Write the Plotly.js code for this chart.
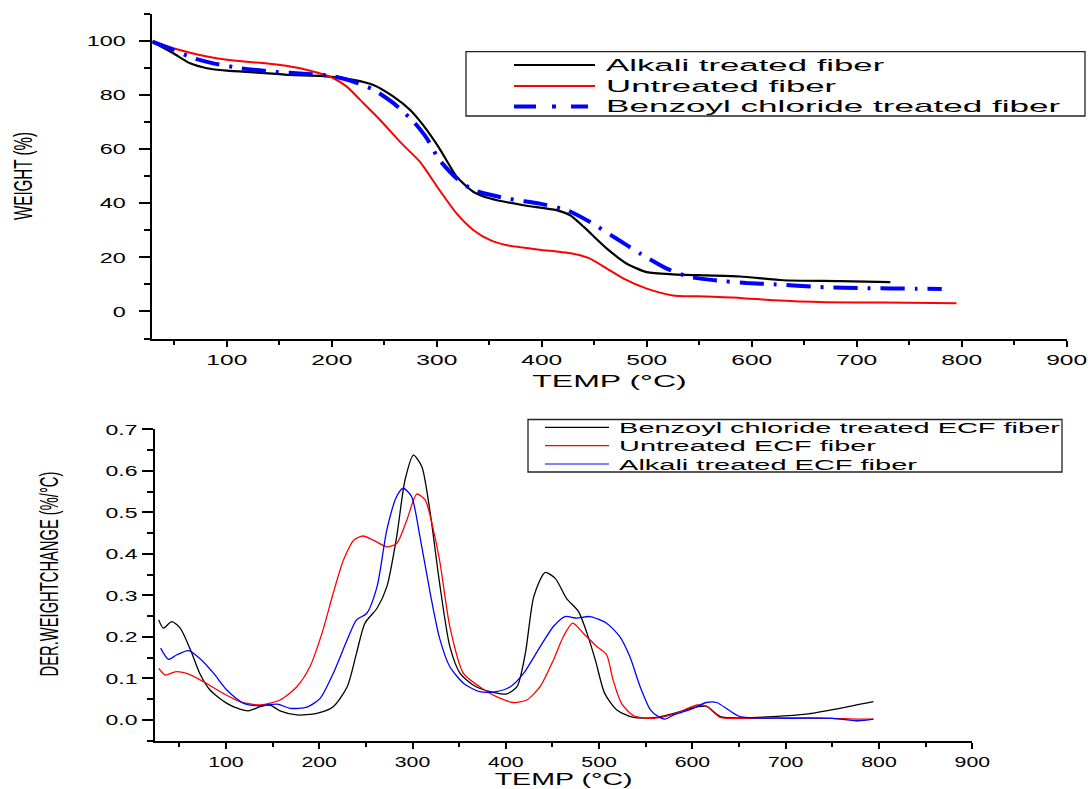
<!DOCTYPE html>
<html>
<head>
<meta charset="utf-8">
<script src="https://cdn.plot.ly/plotly-3.0.1.min.js"></script>
<style>
  html, body { margin: 0; padding: 0; background: #fff; }
  #chart { width: 1091px; height: 789px; }
</style>
</head>
<body>
<div id="chart"></div>
<script>
// ---------------- TGA (top panel) ----------------
const tgaAlkaliTemp   = [29, 49, 65, 81, 100, 128.6, 160, 192, 220.6, 239.6, 258.7, 274.6, 287, 302, 319, 335, 351, 382.5, 414, 427, 440, 462, 481, 500, 525, 557, 589, 630, 684, 732];
const tgaAlkaliWeight = [99.6, 95.3, 91.6, 89.8, 88.9, 88.2, 87.3, 86.9, 85.5, 83.6, 79.3, 74.4, 68.8, 60.5, 49.7, 44.1, 41.7, 39.2, 37.4, 35.5, 31.2, 23.2, 17.6, 14.5, 13.7, 13.3, 12.9, 11.5, 11.2, 10.8];

const tgaUntreatedTemp   = [29, 49, 81, 100, 128.6, 150.8, 169.8, 185.7, 201.5, 214.3, 227, 246, 265, 284, 302, 319, 335, 351, 367, 398, 430, 446, 462, 478, 500, 525, 557, 589, 621, 671, 725, 773, 795];
const tgaUntreatedWeight = [99.6, 97.2, 94.1, 92.9, 91.9, 91.0, 89.8, 88.2, 86.1, 83.0, 78.1, 70.7, 62.6, 55.2, 45.1, 36.1, 30.0, 26.3, 24.4, 22.8, 21.3, 19.5, 15.8, 12.1, 8.4, 5.9, 5.5, 5.0, 4.1, 3.4, 3.3, 3.1, 3.0];

const tgaBenzoylTemp   = [29, 49, 68, 87, 113, 144, 176, 200, 221, 240, 259, 278, 290.5, 302, 319, 335, 367, 398, 424, 446, 471, 494, 519, 541, 573, 595, 621, 665, 710, 757, 781];
const tgaBenzoylWeight = [99.6, 96.6, 93.5, 91.6, 89.8, 88.5, 87.7, 86.9, 84.8, 81.8, 76.8, 70.0, 63.9, 56.2, 49.1, 44.8, 41.7, 39.8, 37.4, 33.0, 26.9, 21.3, 15.8, 12.7, 11.2, 10.5, 10.0, 9.0, 8.6, 8.4, 8.3];

const tgaNames = ["Alkali treated fiber", "Untreated fiber", "Benzoyl chloride treated fiber"];

// ---------------- DTG (bottom panel) ----------------
const dtgBenzoylTemp = [28, 33, 42, 51, 62, 72, 83, 101, 115, 124, 137, 147, 158, 176, 197.5, 215, 230, 240, 249, 262, 272.5, 283, 292, 301, 310, 319, 329, 340, 351, 365, 383, 401, 412, 421, 430, 442, 453, 465, 478, 487, 496, 506, 519, 537, 562, 580, 606, 615, 630, 651, 687, 722, 758, 794];
const dtgBenzoylRate = [0.241, 0.221, 0.237, 0.221, 0.169, 0.112, 0.072, 0.040, 0.026, 0.022, 0.032, 0.036, 0.022, 0.012, 0.016, 0.032, 0.080, 0.161, 0.233, 0.269, 0.321, 0.441, 0.578, 0.638, 0.610, 0.498, 0.330, 0.177, 0.112, 0.084, 0.068, 0.063, 0.080, 0.161, 0.297, 0.355, 0.341, 0.293, 0.261, 0.209, 0.144, 0.064, 0.024, 0.006, 0.006, 0.016, 0.032, 0.033, 0.008, 0.005, 0.008, 0.014, 0.028, 0.044];

const dtgUntreatedTemp = [28, 35, 45.6, 58, 76, 97, 115, 137, 158, 176, 190, 203, 215, 226, 237, 247, 258, 272.5, 283, 294, 304.6, 313.5, 322.4, 329.6, 340, 354.6, 372, 390, 408, 422.5, 436.7, 451, 461.7, 471.8, 483, 497.5, 508, 515, 524, 537, 558, 580, 605, 615, 630, 651, 700, 750, 776, 794];
const dtgUntreatedRate = [0.124, 0.108, 0.116, 0.112, 0.092, 0.064, 0.044, 0.036, 0.048, 0.080, 0.128, 0.209, 0.305, 0.385, 0.433, 0.443, 0.433, 0.417, 0.425, 0.482, 0.544, 0.530, 0.458, 0.377, 0.225, 0.112, 0.080, 0.056, 0.042, 0.048, 0.080, 0.144, 0.201, 0.233, 0.209, 0.177, 0.157, 0.096, 0.040, 0.010, 0.004, 0.014, 0.036, 0.033, 0.006, 0.004, 0.005, 0.004, 0.002, 0.002];

const dtgAlkaliTemp = [30, 38.5, 47.5, 60, 72, 87, 101, 119, 137, 155, 169, 187, 201, 215, 230, 240, 251, 262, 272.5, 283, 290, 299, 308, 319, 329, 340, 355, 372, 390, 405, 419, 437, 451, 463.5, 476, 490, 508, 522, 533, 544, 555, 563.5, 570.6, 580, 601, 615, 626, 640, 651, 700, 750, 778, 794];
const dtgAlkaliRate = [0.173, 0.146, 0.157, 0.167, 0.148, 0.112, 0.072, 0.040, 0.034, 0.038, 0.028, 0.031, 0.052, 0.112, 0.193, 0.241, 0.257, 0.321, 0.458, 0.538, 0.558, 0.538, 0.441, 0.305, 0.197, 0.128, 0.088, 0.068, 0.068, 0.080, 0.112, 0.177, 0.225, 0.249, 0.245, 0.249, 0.233, 0.201, 0.152, 0.080, 0.024, 0.008, 0.002, 0.012, 0.028, 0.042, 0.042, 0.022, 0.008, 0.004, 0.004, -0.002, 0.002];

const dtgNames = ["Benzoyl chloride treated ECF fiber", "Untreated ECF fiber", "Alkali treated ECF fiber"];

// axis texts
const xTitleText = "TEMP (°C)";
const yTitleTop = "WEIGHT (%)";
const yTitleBottom = "DER.WEIGHTCHANGE (%/°C)";

// ---------------- layout helpers (pixel -> paper) ----------------
const W = 1091, H = 789;
const px = v => v / W;
const py = v => 1 - v / H;
const FONT = "Liberation Sans, Arial, sans-serif";

const traces = [
  { x: tgaAlkaliTemp, y: tgaAlkaliWeight, name: tgaNames[0], type: "scatter", mode: "lines",
    line: { color: "#000000", width: 2.2, shape: "spline", smoothing: 0.6 }, xaxis: "x", yaxis: "y" },
  { x: tgaUntreatedTemp, y: tgaUntreatedWeight, name: tgaNames[1], type: "scatter", mode: "lines",
    line: { color: "#ff0000", width: 2, shape: "spline", smoothing: 0.6 }, xaxis: "x", yaxis: "y" },
  { x: tgaBenzoylTemp, y: tgaBenzoylWeight, name: tgaNames[2], type: "scatter", mode: "lines",
    line: { color: "#0000ff", width: 4, dash: "24px,10px,3px,10px", shape: "spline", smoothing: 0.6 }, xaxis: "x", yaxis: "y" },
  { x: dtgBenzoylTemp, y: dtgBenzoylRate, name: dtgNames[0], type: "scatter", mode: "lines",
    line: { color: "#000000", width: 1.3, shape: "spline", smoothing: 0.7 }, xaxis: "x2", yaxis: "y2" },
  { x: dtgUntreatedTemp, y: dtgUntreatedRate, name: dtgNames[1], type: "scatter", mode: "lines",
    line: { color: "#ff0000", width: 1.3, shape: "spline", smoothing: 0.7 }, xaxis: "x2", yaxis: "y2" },
  { x: dtgAlkaliTemp, y: dtgAlkaliRate, name: dtgNames[2], type: "scatter", mode: "lines",
    line: { color: "#0000ff", width: 1.3, shape: "spline", smoothing: 0.7 }, xaxis: "x2", yaxis: "y2" }
];

function xAxis(domain, range, anchor) {
  return {
    domain: domain, range: range, anchor: anchor,
    showline: true, linecolor: "#000", linewidth: 2.5,
    showgrid: false, zeroline: false,
    ticks: "outside", ticklen: 6, tickwidth: 2, tickcolor: "#000",
    tick0: 0, dtick: 100,
    minor: { ticks: "outside", dtick: 50, ticklen: 4, tickwidth: 2, tickcolor: "#000", showgrid: false },
    tickfont: { family: FONT, size: 15, color: "#000" },
    title: { text: xTitleText, font: { family: FONT, size: 17, color: "#000" }, standoff: 8 }
  };
}

const layout = {
  width: W, height: H,
  margin: { l: 0, r: 0, t: 0, b: 0 },
  paper_bgcolor: "#fff", plot_bgcolor: "rgba(0,0,0,0)",
  showlegend: false,
  xaxis: xAxis([px(152.3), px(1066.7)], [29, 900], "y"),
  yaxis: {
    domain: [py(338.5), py(13.5)], range: [-10, 110], anchor: "x",
    showline: true, linecolor: "#000", linewidth: 2.5,
    showgrid: false, zeroline: false,
    ticks: "outside", ticklen: 11, tickwidth: 2, tickcolor: "#000",
    tick0: 0, dtick: 20, ticklabelstandoff: 10,
    minor: { ticks: "outside", dtick: 10, ticklen: 6, tickwidth: 2, tickcolor: "#000", showgrid: false },
    tickfont: { family: FONT, size: 15, color: "#000" },
    title: { text: yTitleTop, font: { family: FONT, size: 15, color: "#000" }, standoff: 69 }
  },
  xaxis2: xAxis([px(155), px(972.3)], [24, 900], "y2"),
  yaxis2: {
    domain: [py(740.7), py(429.3)], range: [-0.05, 0.7], anchor: "x2",
    showline: true, linecolor: "#000", linewidth: 2.5,
    showgrid: false, zeroline: false,
    ticks: "outside", ticklen: 11, tickwidth: 2, tickcolor: "#000",
    tick0: 0, dtick: 0.1, tickformat: ".1f", ticklabelstandoff: 1,
    minor: { ticks: "outside", dtick: 0.05, ticklen: 6, tickwidth: 2, tickcolor: "#000", showgrid: false },
    tickfont: { family: FONT, size: 15, color: "#000" },
    title: { text: yTitleBottom, font: { family: FONT, size: 15, color: "#000" }, standoff: 59 }
  },
  shapes: [],
  annotations: []
};

// ---------- hand-drawn legends (box, line samples, labels) ----------
function addLegend(box, rows, sampleX0, sampleX1, textX, fontSize, names, lines) {
  layout.shapes.push({ type: "rect", xref: "paper", yref: "paper",
    x0: px(box[0]), x1: px(box[1]), y0: py(box[3]), y1: py(box[2]),
    line: { color: "#222", width: 1.3 }, fillcolor: "rgba(255,255,255,0)" });
  names.forEach((n, i) => {
    layout.shapes.push({ type: "line", xref: "paper", yref: "paper",
      x0: px(sampleX0), x1: px(lines[i].end || sampleX1), y0: py(rows[i]), y1: py(rows[i]),
      line: lines[i].line });
    layout.annotations.push({ xref: "paper", yref: "paper", x: px(textX), y: py(rows[i]),
      xanchor: "left", yanchor: "middle", showarrow: false, borderpad: 0,
      text: n, font: { family: FONT, size: fontSize, color: "#000" } });
  });
}
addLegend([466, 1085, 51.7, 116], [65, 86, 106.5], 514, 595, 605, 17, tgaNames, [
  { line: { color: "#000", width: 1.8 } },
  { line: { color: "#ff0000", width: 1.8 } },
  { line: { color: "#0000ff", width: 4, dash: "22px,16px,4px,15px" }, end: 588 }
]);
addLegend([528, 1062, 419.5, 472], [427.3, 445.7, 464], 545, 609, 618, 15, dtgNames, [
  { line: { color: "#000", width: 1.2 } },
  { line: { color: "#ff0000", width: 1.2 } },
  { line: { color: "#0000ff", width: 1.2 } }
]);

// target widths (px) of the horizontally stretched texts of the original figure
const legendTargets = { "Alkali treated fiber": 279, "Untreated fiber": 231, "Benzoyl chloride treated fiber": 455,
  "Benzoyl chloride treated ECF fiber": 441, "Untreated ECF fiber": 257, "Alkali treated ECF fiber": 298 };

// scale an svg text in screen space around an anchor point (idempotent)
function stretch(el, sx, anchor, sy, dy) {
  if (!el) return;
  const cur = el.getAttribute("transform") || "";
  if (el.getAttribute("data-st") === cur && cur !== "") return;
  sy = sy || 1; dy = dy || 0;
  const r = el.getBoundingClientRect();
  if (!r.width || !r.height) return;
  const ctm = el.parentNode.getScreenCTM();
  let ax = anchor === "left" ? r.left : anchor === "right" ? r.right : r.left + r.width / 2;
  let ay = r.top + r.height / 2;
  ax = (ax - ctm.e) / ctm.a;
  ay = (ay - ctm.f) / ctm.d;
  const sh = dy / ctm.d;
  const nt = `translate(0,${sh}) translate(${ax},${ay}) scale(${sx},${sy}) translate(${-ax},${-ay}) ${cur}`;
  el.setAttribute("transform", nt);
  el.setAttribute("data-st", el.getAttribute("transform"));
}
function fresh(el) {
  const cur = el.getAttribute("transform") || "";
  return !(el.getAttribute("data-st") === cur && cur !== "");
}
function stretchGroup(nodes, targetMax, anchor) {
  nodes = Array.from(nodes).filter(fresh);
  if (!nodes.length) return;
  const maxW = Math.max(...nodes.map(n => n.getBoundingClientRect().width));
  if (!maxW) return;
  const s = targetMax / maxW;
  nodes.forEach(n => stretch(n, s, anchor));
}
function fitTo(el, w, h, anchor, dy) {
  if (!el || !fresh(el)) return;
  const r = el.getBoundingClientRect();
  if (!r.width || !r.height) return;
  stretch(el, w / r.width, anchor || "center", h ? h / r.height : 1, dy);
}

function finish() {
  const gd = document.getElementById("chart");
  const sub1 = gd.querySelector(".subplot.xy");
  const sub2 = gd.querySelector(".subplot.x2y2");
  if (!sub1 || !sub2) return;
  stretchGroup(sub1.querySelectorAll(".xtick text"), 41, "center");
  stretchGroup(sub1.querySelectorAll(".ytick text"), 39, "right");
  stretchGroup(sub2.querySelectorAll(".x2tick text, .xtick text"), 35.5, "center");
  stretchGroup(sub2.querySelectorAll(".y2tick text, .ytick text"), 32, "right");
  const t = s => gd.querySelector(s);
  fitTo(t("text.xtitle"), 154.5);
  fitTo(t("text.x2title"), 138);
  // vertical titles: box width includes ascent/descent; ink of capitals ~20px wide in the original
  fitTo(t("text.ytitle"), 30, 88, "center", 0);
  fitTo(t("text.y2title"), 30, 205, "center", -11);
  gd.querySelectorAll(".annotation-text").forEach(el => {
    const target = legendTargets[el.textContent];
    if (target) fitTo(el, target, 0, "left");
  });
}

Plotly.newPlot("chart", traces, layout, { staticPlot: true, displayModeBar: false }).then(gd => {
  gd.on("plotly_afterplot", finish);
  finish();
  requestAnimationFrame(finish);
  setTimeout(finish, 30);
  setTimeout(finish, 150);
  setTimeout(finish, 500);
});
</script>
</body>
</html>
